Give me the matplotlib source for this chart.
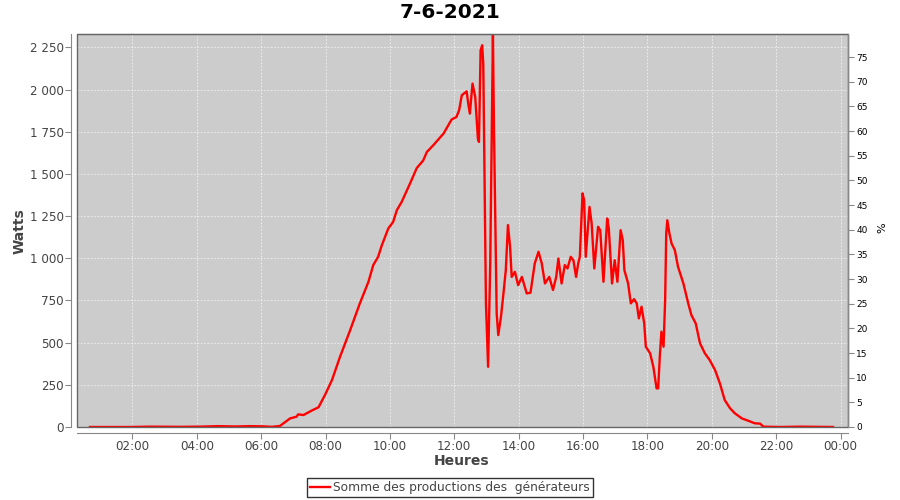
import matplotlib
matplotlib.use('Agg')
import matplotlib.pyplot as plt
from matplotlib.patches import Rectangle

# production relevee le 7-6-2021 (heure, watts)
heures = [
    "00:41", "01:56", "02:33", "03:29", "04:06", "04:40", "05:11", "05:39", "06:02", "06:20",
    "06:35", "06:54", "07:06", "07:09", "07:19", "07:34", "07:47", "07:59", "08:12", "08:27",
    "08:46", "09:04", "09:20", "09:29", "09:38", "09:45", "09:57", "10:06", "10:13", "10:22",
    "10:37", "10:50", "11:02", "11:09", "11:21", "11:40", "11:55", "12:04", "12:09", "12:14",
    "12:23", "12:26", "12:29", "12:34", "12:39", "12:44", "12:46", "12:49", "12:52", "12:54",
    "12:59", "13:03", "13:07", "13:12", "13:14", "13:19", "13:22", "13:27", "13:31", "13:36",
    "13:40", "13:44", "13:47", "13:53", "13:59", "14:06", "14:15", "14:22", "14:30", "14:37",
    "14:43", "14:49", "14:57", "15:04", "15:10", "15:14", "15:20", "15:26", "15:31", "15:37",
    "15:42", "15:47", "15:51", "15:54", "15:59", "16:02", "16:05", "16:12", "16:16", "16:21",
    "16:28", "16:32", "16:38", "16:45", "16:48", "16:54", "16:59", "17:04", "17:10", "17:14",
    "17:17", "17:24", "17:29", "17:35", "17:40", "17:44", "17:49", "17:54", "17:57", "18:05",
    "18:11", "18:17", "18:20", "18:23", "18:26", "18:30", "18:33", "18:35", "18:37", "18:41",
    "18:45", "18:51", "18:57", "19:07", "19:16", "19:22", "19:30", "19:38", "19:47", "19:56",
    "20:06", "20:15", "20:24", "20:34", "20:43", "20:56", "21:08", "21:20", "21:30", "21:36",
    "22:07", "22:44", "23:21", "23:46",
]
watts = [
    0, 0, 2, 1, 2, 5, 3, 5, 4, 1,
    6, 51, 61, 75, 71, 97, 117, 190, 278, 416,
    575, 733, 861, 960, 1009, 1078, 1177, 1216, 1286, 1335,
    1440, 1535, 1580, 1631, 1671, 1740, 1823, 1838, 1878, 1967,
    1990, 1917, 1858, 2036, 1957, 1710, 1690, 2233, 2263, 2154,
    733, 357, 970, 2332, 1759, 673, 545, 653, 772, 930,
    1197, 1068, 890, 920, 841, 890, 792, 796, 970, 1039,
    970, 851, 890, 812, 890, 999, 851, 960, 940, 1009,
    989, 890, 970, 1009, 1385, 1345, 1009, 1305, 1207, 940,
    1187, 1167, 861, 1236, 1177, 851, 989, 861, 1167, 1108,
    930, 851, 733, 758, 733, 644, 713, 614, 476, 437,
    357, 229, 229, 416, 565, 476, 752, 1147, 1226, 1147,
    1088, 1049, 950, 851, 733, 663, 614, 496, 437, 397,
    338, 259, 160, 111, 81, 51, 37, 22, 20, 2,
    0, 2, 1, 0,
]

titre = "7-6-2021"
serie = "Somme des productions des  générateurs"
x_ticks = [2, 4, 6, 8, 10, 12, 14, 16, 18, 20, 22, 24]
x_labels = ["02:00", "04:00", "06:00", "08:00", "10:00", "12:00",
            "14:00", "16:00", "18:00", "20:00", "22:00", "00:00"]
y_ticks = [0, 250, 500, 750, 1000, 1250, 1500, 1750, 2000, 2250]
y_labels = ["0", "250", "500", "750", "1 000", "1 250", "1 500", "1 750", "2 000", "2 250"]
pct_ticks = list(range(0, 80, 5))


def en_heures(t):
    h, m = t.split(":")
    return int(h) + int(m) / 60.0


x = [en_heures(t) for t in heures]

fig = plt.figure(figsize=(9, 5), dpi=100)
ax = fig.add_axes([77 / 900, 1 - 427 / 500, (848 - 77) / 900, (427 - 34) / 500])
ax.set_facecolor('#cccccc')

gris = '#444444'
ax.plot(x, watts, color='red', linewidth=1.7, label=serie, zorder=3)

ax.set_xlim(0.28, 24.23)
ax.set_ylim(0, 2330)
ax.set_xticks(x_ticks)
ax.set_xticklabels(x_labels)
ax.set_yticks(y_ticks)
ax.set_yticklabels(y_labels)
ax.grid(True, color='#f2f2f2', linestyle=(0, (2, 2)), linewidth=0.6)
ax.set_axisbelow(True)

for s in ['top', 'right']:
    ax.spines[s].set_color('#666666')
for s in ['left', 'bottom']:
    ax.spines[s].set_position(('outward', 4))
    ax.spines[s].set_color('#888888')
# cadre du graphique
ax.add_patch(Rectangle((0, 0), 1, 1, transform=ax.transAxes, fill=False,
                       edgecolor='#666666', linewidth=1, zorder=4, clip_on=False))

ax.tick_params(axis='both', direction='out', length=4, color='#888888',
               labelcolor=gris, labelsize=8.6, pad=1.5)

ax2 = ax.twinx()
ax2.set_ylim(0, 79.7)
ax2.set_yticks(pct_ticks)
ax2.tick_params(axis='y', direction='out', length=4, color='#888888',
                labelcolor='black', labelsize=6.5, pad=2)
ax2.spines['right'].set_color('#888888')
for s in ['top', 'left', 'bottom']:
    ax2.spines[s].set_visible(False)

fig.text(0.5, 1 - 13 / 500, titre, ha='center', va='center',
         fontsize=14.5, fontweight='bold', color='black')
fig.text(20 / 900, 1 - 231 / 500, "Watts", rotation=90, ha='center', va='center',
         fontsize=10, fontweight='bold', color=gris)
fig.text(462 / 900, 1 - 461 / 500, "Heures", ha='center', va='center',
         fontsize=10, fontweight='bold', color=gris)
fig.text(882 / 900, 1 - 228 / 500, "%", rotation=90, ha='center', va='center',
         fontsize=8, color='black')

leg = fig.legend(loc='center', bbox_to_anchor=(0.5, 1 - 487.5 / 500), frameon=True,
                 fancybox=False, fontsize=8.8, handlelength=1.6, handletextpad=0.3,
                 borderpad=0.25, borderaxespad=0)
leg.get_frame().set_edgecolor('black')
leg.get_frame().set_linewidth(1)
for t in leg.get_texts():
    t.set_color(gris)

fig.savefig('out.png', dpi=100)
